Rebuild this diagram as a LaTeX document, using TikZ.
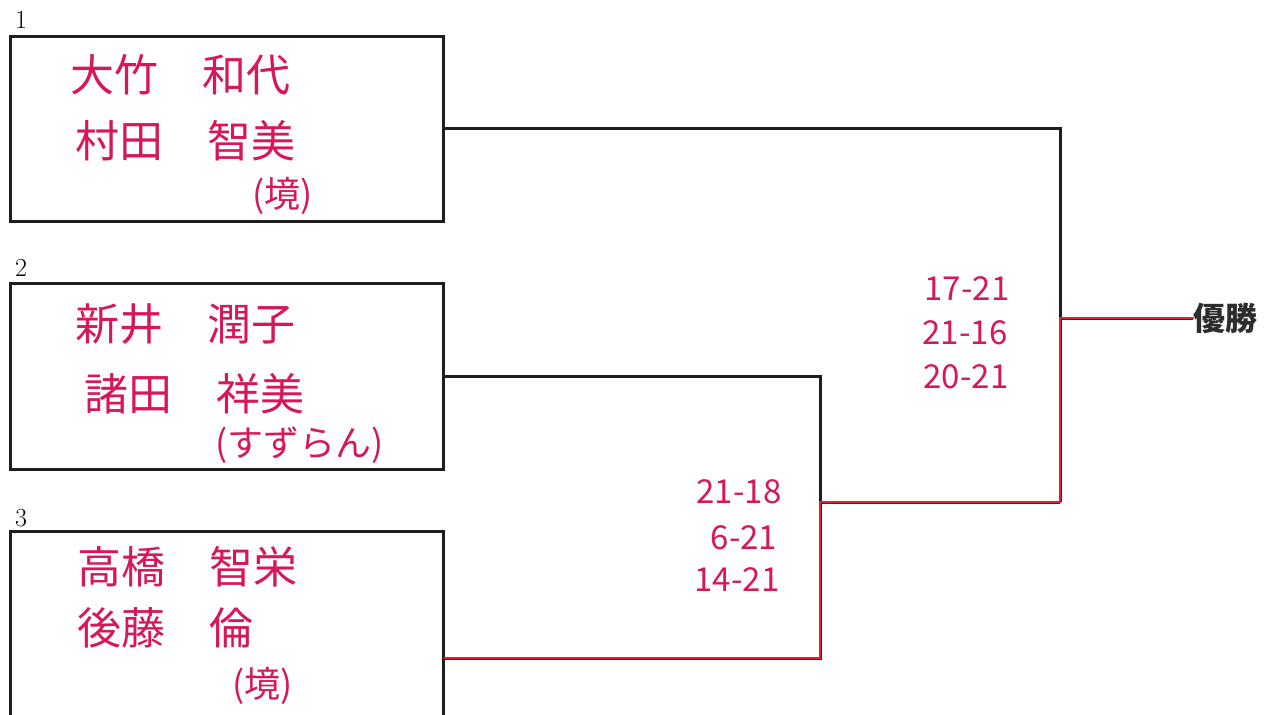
\documentclass[tikz,border=0pt]{standalone}
\usepackage{fontspec}
\newfontfamily\jp{Noto Sans CJK JP}
\definecolor{pen}{RGB}{214,24,86}
\definecolor{redline}{RGB}{232,28,58}
\definecolor{ink}{RGB}{30,30,30}
\definecolor{stamp}{RGB}{45,45,45}
\begin{document}
\begin{tikzpicture}[x=1pt,y=-1pt,
  box/.style={draw=ink,line width=3pt,minimum width=433pt,inner sep=0pt},
  num/.style={font=\fontsize{26}{26}\selectfont,text=black,inner sep=0pt},
  pname/.style={font=\jp\fontsize{44}{44}\selectfont,text=pen,inner sep=0pt,anchor=west},
  club/.style={font=\jp\fontsize{36}{36}\selectfont,text=pen,inner sep=0pt,anchor=west},
  score/.style={font=\jp\fontsize{33}{33}\selectfont,text=pen,inner sep=0pt},
  conn/.style={draw=ink,line width=3pt},
  win/.style={draw=redline,line width=2.8pt,line cap=round},
  final/.style={font=\jp\bfseries\fontsize{32}{32}\selectfont,text=stamp,inner sep=0pt,anchor=west}]
\fill[white] (0,0) rectangle (1264,715);
\useasboundingbox (0,0) rectangle (1264,715);
\clip (0,0) rectangle (1264,715);
% boxes
\node[box,minimum height=185pt] (b1) at (226.5,128.5) {};
\node[box,minimum height=186pt] (b2) at (226.5,376) {};
\node[box,minimum height=254pt] (b3) at (226.5,658) {};
\node[num] (n1) at (21,20) {1};
\node[num] (n2) at (21,268) {2};
\node[num] (n3) at (21,518) {3};
% names
\node[pname] (t1a) at (70,75) {大竹　和代};
\node[pname] (t1b) at (75,141) {村田　智美};
\node[club] (t1c) at (252,196) {(境)};
\node[pname] (t2a) at (75,324) {新井　潤子};
\node[pname] (t2b) at (84,394) {諸田　祥美};
\node[club] (t2c) at (215,445) {(すずらん)};
\node[pname] (t3a) at (77,567) {高橋　智栄};
\node[pname] (t3b) at (77,628) {後藤　倫};
\node[club] (t3c) at (232,686) {(境)};
% junctions
\coordinate (j1) at (820,502);
\coordinate (j2) at (1060,502);
\coordinate (f) at (1060,318);
\node[final] (w) at (1193,318) {優勝};
% connectors
\draw[conn] (b1.east) -| (j2);
\draw[conn] (b2.east) -| (j1);
\draw[conn] (b3.east) -| (j1);
\draw[conn] (j1) -- (j2);
\draw[conn] (f) -- (w.west);
% winning path, drawn over the black lines, slightly offset
\draw[win,shift={(-2.6,2.6)}] (b3.east) -| (j1) -- (j2) -- (f) -- (w.west);
% scores
\node[score] (s1) at (967,289) {17-21};
\node[score] (s2) at (965,333) {21-16};
\node[score] (s3) at (966,377) {20-21};
\node[score] (s4) at (739,492) {21-18};
\node[score] (s5) at (744,538) {6-21};
\node[score] (s6) at (737,580) {14-21};
\end{tikzpicture}
\end{document}
